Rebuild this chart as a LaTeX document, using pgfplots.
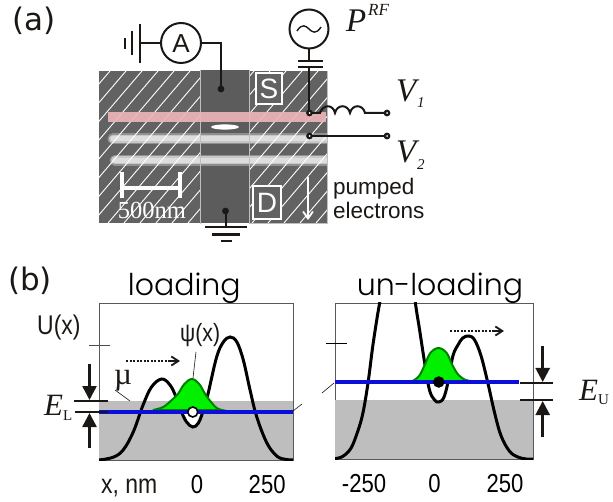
\documentclass[border=0pt]{standalone}
\usepackage{fontspec}
\usepackage{pgfplots}
\pgfplotsset{compat=1.18}
\usetikzlibrary{arrows.meta}
\setmainfont{Liberation Sans}
\newfontfamily\dejafont{DejaVu Sans}
\newfontfamily\titlefont{Poppins Light}
\newfontfamily\timesfont{Liberation Serif}
\newfontfamily\tickfont[FakeStretch=0.85]{Liberation Sans}

\definecolor{semgray}{HTML}{626262}
\definecolor{semdark}{HTML}{5C5C5C}
\definecolor{pinkbar}{HTML}{EBB4B8}
\definecolor{wellgray}{HTML}{BEBEBE}
\definecolor{lineblue}{HTML}{0A10D8}
\definecolor{wavegreen}{HTML}{00F000}
\definecolor{edgegreen}{HTML}{008000}
\definecolor{wire}{HTML}{1A1714}

\pgfplotsset{
  potential/.style={
    scale only axis,
    ymin=0, ymax=157,
    ytick=\empty,
    major tick length=0pt,
    axis line style={draw=black!65, line width=0.7pt},
    clip=true,
    xticklabel style={font=\tickfont\fontsize{26}{26}\selectfont, yshift=-12pt},
    title style={font=\titlefont\fontsize{30}{30}\selectfont, anchor=base},
  },
  curve/.style={black, line width=3pt, smooth, tension=0.6},
  wave/.style={draw=edgegreen, fill=wavegreen, line width=2pt, smooth, tension=0.6},
  level/.style={lineblue, line width=3.8pt},
}

\begin{document}
\begin{tikzpicture}[x=1pt,y=1pt]
\path[use as bounding box] (0,0) rectangle (613,501);

% loading
\begin{axis}[potential, at={(99pt,41pt)}, anchor=south west,
    width=194pt, height=157pt,
    xmin=-349, xmax=342,
    xtick={0,250}, xticklabels={0,250},
    title={loading}, title style={at={(axis description cs:0.44,1.007)}}]
\addplot[draw=none, fill=wellgray] coordinates {(-349,0)(-349,59)(342,59)(342,0)} -- cycle;
\addplot[draw=none, fill=white] coordinates {(-55,48)(-37,38)(-15,33)(5,37)(23,50)} -- cycle;
\addplot[curve] coordinates {
(-349,0)(-299,2.7)(-263,10)(-227,28)(-192,55)(-162,73)(-126,81)(-96,75)(-73,62)(-55,48)
(-37,38)(-15,33)(5,37)(23,50)(40,67)(70,103)(94,118)(118,123)(142,118)(165,100)(189,70)
(213,43)(249,17)(284,4)(314,0.7)(342,0)};
\addplot[wave] coordinates {
(-157,50)(-120,53)(-90,60)(-68,66)(-45,76)(-18,81)(8,76)(29,66)(50,58)(70,52)(89,50)} -- cycle;
\addplot[level] coordinates {(-349,48)(342,48)};
\addplot[only marks, mark=*, mark size=5pt, mark options={fill=white, draw=black, line width=1.6pt}]
  coordinates {(-15,48)};
\end{axis}

% un-loading
\begin{axis}[potential, at={(335pt,42pt)}, anchor=south west,
    width=198pt, height=156pt,
    xmin=-353, xmax=349, ymax=156,
    xtick={-250,0,250}, xticklabels={-250,0,250},
    title={un-loading}, title style={at={(axis description cs:0.53,1.007)}}]
\addplot[draw=none, fill=wellgray] coordinates {(-353,0)(-353,59)(349,59)(349,0)} -- cycle;
\addplot[draw=none, fill=white] coordinates {(-18,77)(-18,69)(0,59)(15,57)(32,61)(47,77)} -- cycle;
\addplot[curve] coordinates {
(-353,0.3)(-325,2.7)(-296,11)(-272,28)(-254,46)(-236,76)(-219,113)(-201,146)(-189,165)
(-165,200)(-124,220)(-83,190)(-67,154)(-53,129)(-35,96)(-18,69)(0,59)(15,57)(32,61)(47,76)
(65,103)(83,114)(100,121)(122,123)(142,119)(165,103)(189,76)(213,46)(236,23)(266,7.7)
(295,2)(325,0)(349,0)};
\addplot[wave] coordinates {
(-78,78)(-55,83)(-35,94)(-15,106)(14,111)(43,106)(63,94)(85,84)(110,79)(131,78)} -- cycle;
\addplot[level] coordinates {(-353,77)(300,77)};
\addplot[only marks, mark=*, mark size=5.5pt, mark options={fill=black, draw=black}]
  coordinates {(15,77)};
\end{axis}

% schematic and labels, pixel coordinates
\begin{scope}[yshift=501pt, y=-1pt, x=1pt]
\node[anchor=base west, font=\dejafont\fontsize{31}{31}\selectfont, text=wire, inner sep=0] at (12,31) {(a)};
\node[anchor=base west, font=\dejafont\fontsize{31}{31}\selectfont, text=wire, inner sep=0] at (8,291) {(b)};

% sem picture
\fill[semgray] (99,71) rectangle (200,223);
\fill[semgray] (250,71) rectangle (327,223);
\fill[semdark] (201,70) rectangle (249,223);
\begin{scope}
\clip (99,71) rectangle (327,223);
\foreach \yy/\xa in {139/113,160.5/115}{
  \draw[white, opacity=0.3, line width=11pt, line cap=round] (\xa,\yy) -- (335,\yy);
  \draw[white, opacity=0.5, line width=8pt, line cap=round] (\xa,\yy) -- (335,\yy);
  \draw[white, opacity=0.4, line width=5pt, line cap=round] (\xa,\yy) -- (335,\yy);
}
\end{scope}
\begin{scope}
\clip (99,71) rectangle (200,223) (250,71) rectangle (327,223);
\foreach \xa in {-36,-20,...,340}
  \draw[white, line width=0.9pt] (\xa,223) -- (\xa+130,71);
\end{scope}
\draw[white!75!black, line width=0.7pt] (200.5,70) -- (200.5,224) (249.5,70) -- (249.5,224) (250,223.5) -- (327,223.5) -- (327,71);
\fill[pinkbar, opacity=0.92] (108,112) rectangle (326,122);
\fill[white] (225,127) ellipse (14 and 2.6);

% S, D boxes and scale bar
\draw[white, line width=1.6pt, fill=semgray] (256,73) rectangle (282,104);
\node[text=white, font=\fontsize{28}{28}\selectfont] at (269,88.5) {S};
\draw[white, line width=1.6pt, fill=semgray] (253,186) rectangle (281,219);
\node[text=white, font=\fontsize{28}{28}\selectfont] at (267,203) {D};
\draw[white, line width=3.2pt] (122,188) -- (180,188);
\draw[white, line width=4pt] (122,172) -- (122,198) (180,172) -- (180,198);
\node[anchor=base, text=white, inner sep=0, font=\timesfont\fontsize{24.5}{24.5}\selectfont] at (152,219) {500nm};
\draw[white, line width=1.8pt, -{Straight Barb[length=7pt,width=10pt]}] (308,177) -- (308,220);

% left ground and ammeter
\draw[wire, line width=2pt] (125,38) -- (125,49) (132,31) -- (132,55) ;
\draw[wire, line width=2.2pt] (140,24) -- (140,63);
\draw[wire, line width=2pt] (140,43) -- (161,43) (201,43) -- (221,43) -- (221,89);
\draw[wire, line width=2pt] (181,43) circle (20);
\node[text=wire, font=\fontsize{26}{26}\selectfont] at (181,44) {A};

% source, capacitor, lines
\draw[wire, line width=2pt] (309,29) circle (19.5);
\draw[wire, line width=1.4pt] (297,31) .. controls (302,23) and (306,26) .. (309,29) .. controls (312,32) and (316,35) .. (321,27);
\draw[wire, line width=2pt] (309,48) -- (309,61) (309,67) -- (309,113);
\draw[wire, line width=2.4pt] (298,61) -- (323,61) (298,67) -- (323,67);
\draw[wire, line width=2pt] (309,113) -- (320,113)
  .. controls (323,104) and (333,104) .. (335,113)
  .. controls (337,104) and (348,104) .. (350,113)
  .. controls (352,104) and (363,104) .. (365,113)
  -- (387,113);
\draw[wire, line width=1.8pt] (309,136) -- (387,136);
\draw[wire, line width=2pt] (225.5,211) -- (225.5,227);
\draw[wire, line width=2.4pt] (205,227) -- (247,227) (212,234.5) -- (240,234.5);
\draw[wire, line width=2.4pt] (220.5,241) -- (231.5,241);
\foreach \px/\py in {221/89,225.5/211}
  \fill[wire] (\px,\py) circle (3.4);
\foreach \px/\py in {309.5/113,309.5/136,387/113,387/136}{
  \fill[wire] (\px,\py) circle (3.4);
  \fill[white] (\px,\py) circle (1);
}

% text of the top panel
\node[anchor=base west, inner sep=0, text=wire, font=\timesfont\itshape\fontsize{33}{33}\selectfont] at (346,32) {P};
\node[anchor=base west, inner sep=0, text=wire, font=\timesfont\itshape\fontsize{17}{17}\selectfont] at (368,16) {RF};
\node[anchor=base west, inner sep=0, text=wire, font=\timesfont\itshape\fontsize{33}{33}\selectfont] at (396,102) {V};
\node[anchor=base west, inner sep=0, text=wire, font=\timesfont\itshape\fontsize{15}{15}\selectfont] at (417,108) {1};
\node[anchor=base west, inner sep=0, text=wire, font=\timesfont\itshape\fontsize{33}{33}\selectfont] at (396,163) {V};
\node[anchor=base west, inner sep=0, text=wire, font=\timesfont\itshape\fontsize{15}{15}\selectfont] at (417,170) {2};
\node[anchor=base west, inner sep=0, text=wire, font=\fontsize{22.5}{22.5}\selectfont] at (333,195) {pumped};
\node[anchor=base west, inner sep=0, text=wire, font=\fontsize{22.5}{22.5}\selectfont] at (333,219) {electrons};

% text and marks of the lower panels
\node[anchor=base west, inner sep=0, text=wire, font=\tickfont\fontsize{27}{27}\selectfont] at (37,335) {U(x)};
\node[anchor=base west, inner sep=0, text=wire, font=\tickfont\fontsize{27}{27}\selectfont] at (101,493) {x, nm};
\node[anchor=base west, inner sep=0, text=wire, font=\tickfont\fontsize{25}{25}\selectfont] at (180,342) {ψ(x)};
\node[anchor=base west, inner sep=0, text=wire, font=\timesfont\fontsize{31}{31}\selectfont] at (114,384) {µ};
\node[anchor=base west, inner sep=0, text=wire, font=\timesfont\itshape\fontsize{31}{31}\selectfont] at (44,415) {E};
\node[anchor=base west, inner sep=0, text=wire, font=\timesfont\fontsize{15}{15}\selectfont] at (63,420) {L};
\node[anchor=base west, inner sep=0, text=wire, font=\timesfont\itshape\fontsize{31}{31}\selectfont] at (579,400) {E};
\node[anchor=base west, inner sep=0, text=wire, font=\timesfont\fontsize{15}{15}\selectfont] at (598,405) {U};

\draw[black!70, line width=0.7pt] (89,345) -- (110,345);
\draw[black, line width=0.7pt] (326,343) -- (347,343);
\draw[wire, line width=0.6pt] (115,390) -- (130,401);
\draw[wire, line width=0.6pt] (293,411) -- (302,404);
\draw[wire, line width=0.6pt] (322,393) -- (334,383);
\draw[wire, line width=0.6pt] (196,352) -- (193,378);

\draw[wire, line width=1.8pt] (74,401) -- (108,401);
\draw[wire, line width=1.8pt] (75,412) -- (108,412);
\draw[wire, line width=1.8pt] (520,383) -- (553,383);
\draw[wire, line width=1.8pt] (520,400) -- (553,400);
\draw[wire, line width=2.5pt, -{Triangle[length=14pt,width=14pt]}] (89.5,364) -- (89.5,400);
\draw[wire, line width=2.5pt, -{Triangle[length=14pt,width=14pt]}] (89.5,448) -- (89.5,413);
\draw[wire, line width=2.5pt, -{Triangle[length=14pt,width=14pt]}] (542.7,346) -- (542.7,382);
\draw[wire, line width=2.5pt, -{Triangle[length=14pt,width=14pt]}] (542.7,437) -- (542.7,401);

\draw[wire, line width=2.2pt, dash pattern=on 2pt off 1.5pt] (126,361) -- (172,361);
\draw[wire, line width=1.8pt, -{Straight Barb[length=7pt,width=9pt]}] (170,361) -- (180,361);
\draw[wire, line width=2.2pt, dash pattern=on 2pt off 1.5pt] (450,331) -- (494,331);
\draw[wire, line width=1.8pt, -{Straight Barb[length=7pt,width=9pt]}] (493,331) -- (504,331);
\end{scope}
\end{tikzpicture}
\end{document}
